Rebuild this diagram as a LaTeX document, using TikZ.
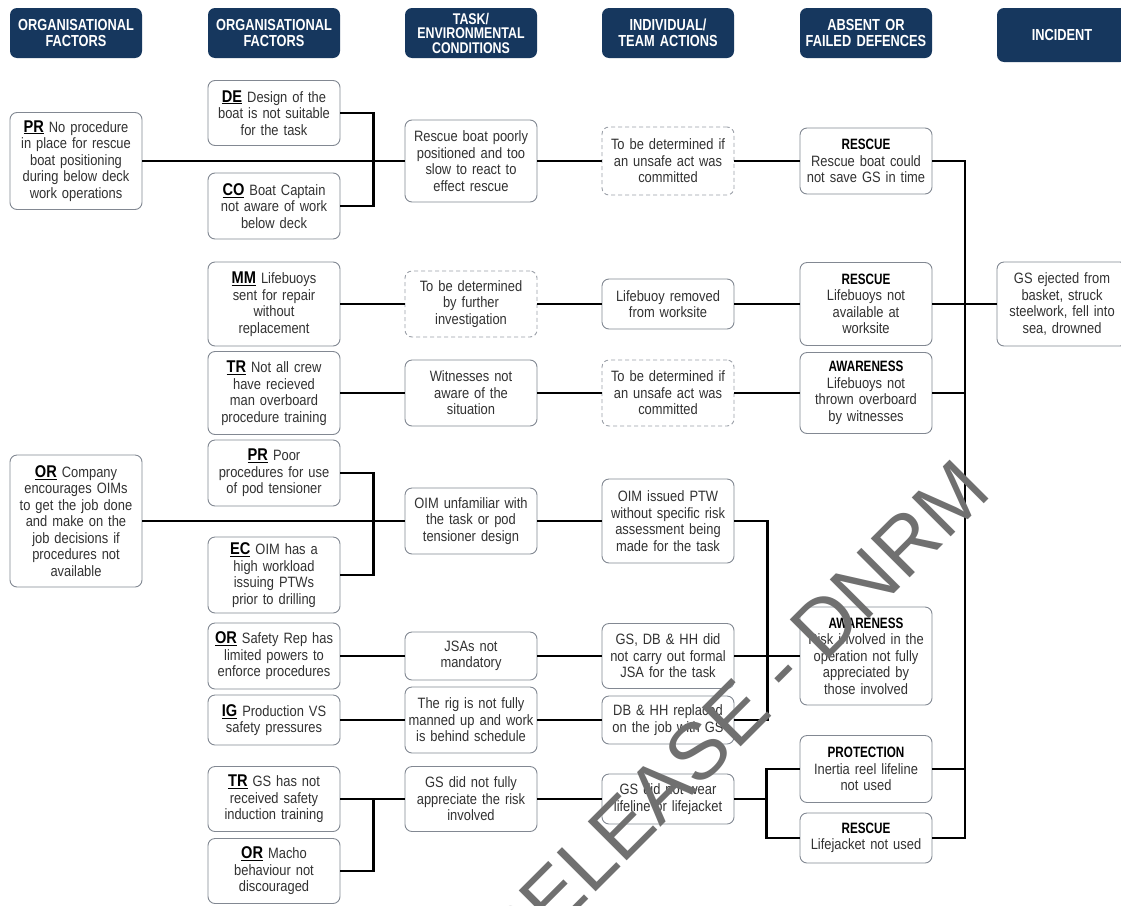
\documentclass[tikz,border=0pt]{standalone}
\usepackage{fontspec}
\setmainfont{Liberation Sans}[FakeStretch=0.86]
\newfontfamily\narrowfont{Liberation Sans}[FakeStretch=0.78]
\newfontfamily\headfont{Liberation Sans}[FakeStretch=0.80]
\newfontfamily\markfont{Liberation Sans}
\definecolor{navy}{RGB}{22,55,94}
\definecolor{edge}{RGB}{130,136,146}
\definecolor{body}{RGB}{50,50,50}
\definecolor{markgrey}{RGB}{112,112,112}

\tikzset{
  hdr/.style={fill=navy, rounded corners=7pt, minimum width=132pt, minimum height=50pt,
    text width=130pt, align=center, text=white, inner sep=0pt,
    font=\headfont\bfseries\fontsize{16}{16.5}\selectfont},
  box/.style={draw=edge, line width=0.9pt, fill=white, rounded corners=7pt,
    minimum width=132pt, text width=128pt, align=center, inner sep=0pt, text=body,
    font=\fontsize{15}{16.5}\selectfont},
  tbd/.style={box, draw=edge!80, dash pattern=on 4pt off 3pt},
  link/.style={line width=2.4pt, black},
}
% bold underlined factor code and bold defence title
\newcommand\cd[1]{{\color{black}\fontsize{17}{16.5}\selectfont\bfseries\underline{#1}}}
\newcommand\ttl[1]{{\color{black}\narrowfont\bfseries #1}}

\begin{document}
\begin{tikzpicture}[x=1pt,y=-1pt]
\fill[white] (0,0) rectangle (1121,905);
\useasboundingbox (0,0) rectangle (1121,905);

% column headings
\node[hdr] (h1) at (76,33) {ORGANISATIONAL\\FACTORS};
\node[hdr] (h2) at (274,33) {ORGANISATIONAL\\FACTORS};
\node[hdr, font=\headfont\bfseries\fontsize{15.5}{14.5}\selectfont] (h3) at (471,33) {TASK/\\ENVIRONMENTAL\\CONDITIONS};
\node[hdr] (h4) at (668,33) {INDIVIDUAL/\\TEAM ACTIONS};
\node[hdr] (h5) at (866,33) {ABSENT OR\\FAILED DEFENCES};
\node[hdr, minimum width=130pt, minimum height=54pt] (h6) at (1062,35) {INCIDENT};

% rescue boat chain
\node[box, minimum height=97pt] (r1pr) at (76,161) {\cd{PR} No procedure\\in place for rescue\\boat positioning\\during below deck\\work operations};
\node[box, minimum height=65pt] (r1de) at (274,113) {\cd{DE} Design of the\\boat is not suitable\\for the task};
\node[box, minimum height=66pt] (r1co) at (274,206) {\cd{CO} Boat Captain\\not aware of work\\below deck};
\node[box, minimum height=82pt] (r1t) at (471,161) {Rescue boat poorly\\positioned and too\\slow to react to\\effect rescue};
\node[tbd, minimum height=68pt] (r1i) at (668,161) {To be determined if\\an unsafe act was\\committed};
\node[box, minimum height=66pt] (r1d) at (866,161) {\ttl{RESCUE}\\Rescue boat could\\not save GS in time};

% lifebuoy chain
\node[box, minimum height=84pt] (r2mm) at (274,304) {\cd{MM} Lifebuoys\\sent for repair\\without\\replacement};
\node[tbd, minimum height=66pt] (r2t) at (471,304) {To be determined\\by further\\investigation};
\node[box, minimum height=50pt] (r2i) at (668,304) {Lifebuoy removed\\from worksite};
\node[box, minimum height=83pt] (r2d) at (866,304) {\ttl{RESCUE}\\Lifebuoys not\\available at\\worksite};
\node[box, minimum width=130pt, minimum height=84pt] (inc) at (1062,304) {GS ejected from\\basket, struck\\steelwork, fell into\\sea, drowned};

% witnesses chain
\node[box, minimum height=83pt] (r3tr) at (274,393) {\cd{TR} Not all crew\\have recieved\\man overboard\\procedure training};
\node[box, minimum height=66pt] (r3t) at (471,393) {Witnesses not\\aware of the\\situation};
\node[tbd, minimum height=66pt] (r3i) at (668,393) {To be determined if\\an unsafe act was\\committed};
\node[box, minimum height=81pt] (r3d) at (866,393) {\ttl{AWARENESS}\\Lifebuoys not\\thrown overboard\\by witnesses};

% permit to work chain
\node[box, minimum height=132pt] (r4or) at (76,521) {\cd{OR} Company\\encourages OIMs\\to get the job done\\and make on the\\job decisions if\\procedures not\\available};
\node[box, minimum height=66pt] (r4pr) at (274,473) {\cd{PR} Poor\\procedures for use\\of pod tensioner};
\node[box, minimum height=76pt] (r4ec) at (274,575) {\cd{EC} OIM has a\\high workload\\issuing PTWs\\prior to drilling};
\node[box, minimum height=66pt] (r4t) at (471,521) {OIM unfamiliar with\\the task or pod\\tensioner design};
\node[box, minimum height=84pt] (r4i) at (668,521) {OIM issued PTW\\without specific risk\\assessment being\\made for the task};

% JSA chain
\node[box, minimum height=66pt] (r5or) at (274,656) {\cd{OR} Safety Rep has\\limited powers to\\enforce procedures};
\node[box, minimum height=48pt] (r5t) at (471,656) {JSAs not\\mandatory};
\node[box, minimum height=65pt] (r5i) at (668,656) {GS, DB \& HH did\\not carry out formal\\JSA for the task};
\node[box, minimum height=98pt] (r5d) at (866,656) {\ttl{AWARENESS}\\Risk involved in the\\operation not fully\\appreciated by\\those involved};

% manning chain
\node[box, minimum height=50pt] (r6ig) at (274,720) {\cd{IG} Production VS\\safety pressures};
\node[box, minimum height=66pt] (r6t) at (471,720) {The rig is not fully\\manned up and work\\is behind schedule};
\node[box, minimum height=48pt] (r6i) at (668,720) {DB \& HH replaced\\on the job with GS};

% personal protection chain
\node[box, minimum height=65pt] (r7tr) at (274,799) {\cd{TR} GS has not\\received safety\\induction training};
\node[box, minimum height=65pt] (r7or) at (274,871) {\cd{OR} Macho\\behaviour not\\discouraged};
\node[box, minimum height=65pt] (r7t) at (471,799) {GS did not fully\\appreciate the risk\\involved};
\node[box, minimum height=50pt] (r7i) at (668,799) {GS did not wear\\lifeline or lifejacket};
\node[box, minimum height=67pt] (r7p) at (866,769) {\ttl{PROTECTION}\\Inertia reel lifeline\\not used};
\node[box, minimum height=50pt] (r7r) at (866,838) {\ttl{RESCUE}\\Lifejacket not used};

% bus into the incident
\coordinate (busBot) at (965,838);

% connectors
\draw[link] (r1pr.east) -- (r1t.west);
\draw[link] (r1de.east) -- ++(33,0) |- (r1co.east);
\draw[link] (r1t.east) -- (r1i.west);
\draw[link] (r1i.east) -- (r1d.west);
\draw[link] (r1d.east) -| (busBot) -- (r7r.east);

\draw[link] (r2mm.east) -- (r2t.west);
\draw[link] (r2t.east) -- (r2i.west);
\draw[link] (r2i.east) -- (r2d.west);
\draw[link] (r2d.east) -- (inc.west);

\draw[link] (r3tr.east) -- (r3t.west);
\draw[link] (r3t.east) -- (r3i.west);
\draw[link] (r3i.east) -- (r3d.west);
\draw[link] (r3d.east) -- (r3d.east -| busBot);

\draw[link] (r4or.east) -- (r4t.west);
\draw[link] (r4pr.east) -- ++(33,0) |- (r4ec.east);
\draw[link] (r4t.east) -- (r4i.west);
\draw[link] (r4i.east) -- ++(33,0) |- (r6i.east);

\draw[link] (r5or.east) -- (r5t.west);
\draw[link] (r5t.east) -- (r5i.west);
\draw[link] (r5i.east) -- (r5d.west);

\draw[link] (r6ig.east) -- (r6t.west);
\draw[link] (r6t.east) -- (r6i.west);

\draw[link] (r7tr.east) -- (r7t.west);
\draw[link] (r7tr.east) -- ++(33,0) |- (r7or.east);
\draw[link] (r7t.east) -- (r7i.west);
\draw[link] (r7p.west) -- ++(-33,0) |- (r7r.west);
\draw[link] (r7i.east) -- ++(33,0);
\draw[link] (r7p.east) -- (r7p.east -| busBot);

% release stamp across the sheet
\node[rotate=45, anchor=base east, inner sep=0pt, text=markgrey,
      font=\markfont\fontsize{80}{80}\selectfont] (stamp) at (994,494) {RELEASE - DNRM};
\end{tikzpicture}
\end{document}
